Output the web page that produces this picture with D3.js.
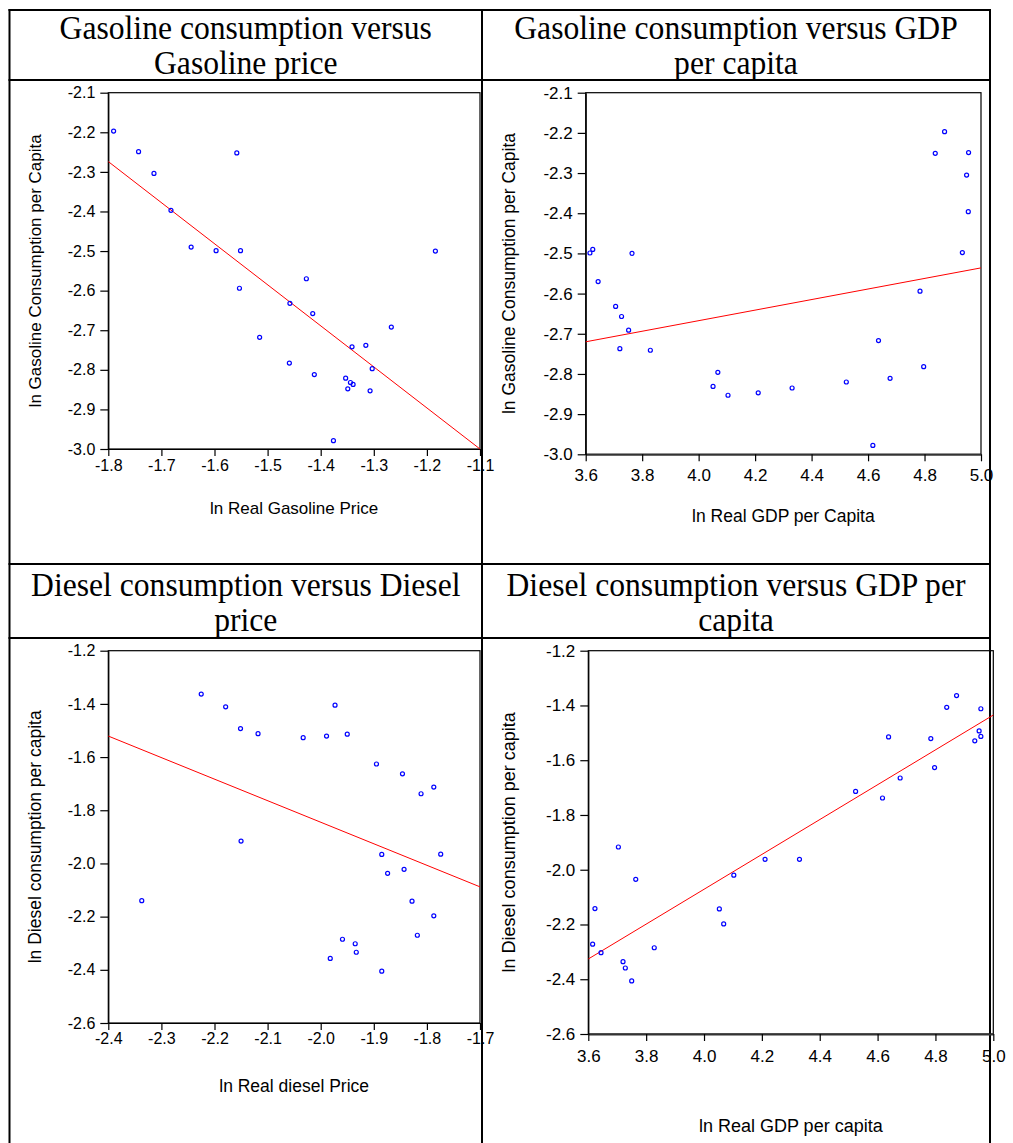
<!DOCTYPE html>
<html>
<head>
<meta charset="utf-8">
<script src="https://cdn.jsdelivr.net/npm/d3@7"></script>
<style>
  body { margin: 0; background: #fff; }
  text { fill: #000; }
</style>
</head>
<body>
<div id="chart"></div>
<script>
// Titles (two lines per cell)
const titles = [
    ["Gasoline consumption versus", "Gasoline price"],
    ["Gasoline consumption versus GDP", "per capita"],
    ["Diesel consumption versus Diesel", "price"],
    ["Diesel consumption versus GDP per", "capita"]
];

const xLabels = ["ln Real Gasoline Price", "ln Real GDP per Capita", "ln Real diesel Price", "ln Real GDP per capita"];
const yLabels = ["ln Gasoline Consumption per Capita", "ln Gasoline Consumption per Capita",
    "ln Diesel consumption per capita", "ln Diesel consumption per capita"];

// Panel 1: gasoline consumption vs gasoline price
const gasPrice = [-1.790, -1.743, -1.714, -1.682, -1.644, -1.597, -1.551, -1.558, -1.184,
    -1.553, -1.427, -1.458, -1.415, -1.267, -1.515, -1.341, -1.315, -1.459, -1.303,
    -1.412, -1.353, -1.344, -1.339, -1.349, -1.307, -1.376];
const gasConsA = [-2.197, -2.249, -2.304, -2.397, -2.490, -2.499, -2.499, -2.252, -2.500,
    -2.594, -2.570, -2.632, -2.658, -2.692, -2.718, -2.742, -2.738, -2.783, -2.797,
    -2.812, -2.821, -2.832, -2.837, -2.848, -2.853, -2.979];
const fitA_x = [-1.8, -1.1];
const fitA_y = [-2.274, -3.0];

// Panel 2: gasoline consumption vs GDP per capita
const gdpB = [3.615, 3.625, 3.764, 4.838, 4.871, 4.956, 4.949, 4.955, 4.934,
    3.644, 3.706, 3.727, 3.752, 3.721, 3.829, 4.068, 4.051, 4.104, 4.211,
    4.331, 4.523, 4.617, 4.637, 4.678, 4.784, 4.797];
const gasConsB = [-2.499, -2.490, -2.500, -2.251, -2.197, -2.249, -2.305, -2.396, -2.498,
    -2.570, -2.632, -2.657, -2.691, -2.737, -2.741, -2.796, -2.831, -2.853, -2.847,
    -2.835, -2.820, -2.978, -2.717, -2.811, -2.594, -2.782];
const fitB_x = [3.6, 5.0];
const fitB_y = [-2.720, -2.536];

// Panel 3: diesel consumption vs diesel price
const dieselPrice = [-2.225, -2.179, -2.151, -2.118, -2.033, -1.989, -1.973, -1.950, -1.895,
    -1.846, -1.811, -1.787, -2.150, -1.885, -1.774, -1.843, -1.874, -2.337, -1.828,
    -1.787, -1.818, -1.959, -1.935, -1.933, -1.982, -1.885];
const dieselConsC = [-1.363, -1.411, -1.493, -1.512, -1.527, -1.521, -1.405, -1.514, -1.626,
    -1.663, -1.738, -1.713, -1.916, -1.966, -1.965, -2.022, -2.037, -2.140, -2.142,
    -2.197, -2.270, -2.285, -2.302, -2.334, -2.357, -2.405];
const fitC_x = [-2.4, -1.7];
const fitC_y = [-1.521, -2.088];

// Panel 4: diesel consumption vs GDP per capita
const gdpD = [4.873, 4.839, 4.957, 4.951, 4.957, 4.936, 4.638, 4.784, 4.797,
    4.678, 4.524, 4.617, 3.704, 4.211, 4.330, 4.103, 3.764, 3.623, 4.053,
    4.068, 3.615, 3.828, 3.644, 3.720, 3.728, 3.750];
const dieselConsD = [-1.364, -1.407, -1.412, -1.493, -1.513, -1.529, -1.515, -1.521, -1.627,
    -1.665, -1.714, -1.738, -1.917, -1.962, -1.962, -2.020, -2.035, -2.142, -2.143,
    -2.198, -2.272, -2.285, -2.303, -2.336, -2.359, -2.406];
const fitD_x = [3.6, 5.0];
const fitD_y = [-2.326, -1.435];

// Tick values
const xTicksA = [-1.8, -1.7, -1.6, -1.5, -1.4, -1.3, -1.2, -1.1];
const yTicksA = [-2.1, -2.2, -2.3, -2.4, -2.5, -2.6, -2.7, -2.8, -2.9, -3.0];
const xTicksGdp = [3.6, 3.8, 4.0, 4.2, 4.4, 4.6, 4.8, 5.0];
const xTicksC = [-2.4, -2.3, -2.2, -2.1, -2.0, -1.9, -1.8, -1.7];
const yTicksC = [-1.2, -1.4, -1.6, -1.8, -2.0, -2.2, -2.4, -2.6];

const W = 1013, H = 1143;
const svg = d3.select("#chart").append("svg")
    .attr("width", W).attr("height", H)
    .style("background", "#fff");

const sans = "'Liberation Sans', Arial, sans-serif";

// Table grid
const tbl = { left: 9.5, mid: 482, right: 990, top: 10, row1: 80, row2: 564, row3: 638 };
const grid = svg.append("g").attr("stroke", "#000").attr("stroke-width", 2);
[tbl.left, tbl.mid, tbl.right].forEach(x =>
    grid.append("line").attr("x1", x).attr("x2", x).attr("y1", tbl.top - 1).attr("y2", H));
[tbl.top, tbl.row1, tbl.row2, tbl.row3].forEach(y =>
    grid.append("line").attr("x1", tbl.left - 1).attr("x2", tbl.right + 1).attr("y1", y).attr("y2", y));

// Titles (slightly condensed serif)
const titlePos = [
    { cx: (tbl.left + tbl.mid) / 2, y: 39 },
    { cx: (tbl.mid + tbl.right) / 2, y: 39 },
    { cx: (tbl.left + tbl.mid) / 2, y: 596 },
    { cx: (tbl.mid + tbl.right) / 2, y: 596 }
];
titles.forEach((lines, i) => {
    const t = svg.append("text")
        .attr("transform", `translate(${titlePos[i].cx},${titlePos[i].y}) scale(0.93,1)`)
        .attr("text-anchor", "middle")
        .style("font-family", "'Liberation Serif', 'Times New Roman', serif")
        .style("font-size", "34px");
    lines.forEach((s, j) => t.append("tspan")
        .attr("x", 0).attr("y", j * 35).text(s));
});

// Panel geometry
const panels = [
    { xs: gasPrice, ys: gasConsA, fx: fitA_x, fy: fitA_y, xd: [-1.8, -1.1], yd: [-3.0, -2.1],
      xr: [108.3, 480], yr: [449, 92.7], xt: xTicksA, yt: yTicksA, fs: 16, pad: 3.5, ypad: 5,
      xl: 508, yl: 35, lfs: 17 },
    { xs: gdpB, ys: gasConsB, fx: fitB_x, fy: fitB_y, xd: [3.6, 5.0], yd: [-3.0, -2.1],
      xr: [585.7, 981], yr: [454.3, 92.7], xt: xTicksGdp, yt: yTicksA, fs: 17, pad: 8, ypad: 5,
      xl: 516, yl: 509, lfs: 17.5 },
    { xs: dieselPrice, ys: dieselConsC, fx: fitC_x, fy: fitC_y, xd: [-2.4, -1.7], yd: [-2.6, -1.2],
      xr: [108.3, 480], yr: [1023, 650.7], xt: xTicksC, yt: yTicksC, fs: 16, pad: 2.5, ypad: 5,
      xl: 1086, yl: 35, lfs: 17.5 },
    { xs: gdpD, ys: dieselConsD, fx: fitD_x, fy: fitD_y, xd: [3.6, 5.0], yd: [-2.6, -1.2],
      xr: [588.3, 993.3], yr: [1034, 650.7], xt: xTicksGdp, yt: yTicksC, fs: 17, pad: 9, ypad: 5,
      xl: 1126, yl: 509, lfs: 18 }
];

const fmt = d => d.toFixed(1);

panels.forEach((p, i) => {
    const x = d3.scaleLinear().domain(p.xd).range(p.xr);
    const y = d3.scaleLinear().domain(p.yd).range(p.yr);
    const g = svg.append("g");

    // frame (top and right)
    g.append("rect")
        .attr("x", p.xr[0]).attr("y", p.yr[1])
        .attr("width", p.xr[1] - p.xr[0]).attr("height", p.yr[0] - p.yr[1])
        .attr("fill", "none").attr("stroke", "#000").attr("stroke-width", 1.2);

    const xAxis = g.append("g")
        .attr("transform", `translate(0,${p.yr[0]})`)
        .call(d3.axisBottom(x).tickValues(p.xt).tickFormat(fmt).tickSize(7).tickSizeOuter(0).tickPadding(p.pad));
    const yAxis = g.append("g")
        .attr("transform", `translate(${p.xr[0]},0)`)
        .call(d3.axisLeft(y).tickValues(p.yt).tickFormat(fmt).tickSize(8).tickSizeOuter(0).tickPadding(p.ypad));
    [xAxis, yAxis].forEach(a => {
        a.selectAll("text")
            .style("font-family", sans)
            .style("font-size", p.fs + "px");
        a.selectAll("line, path").attr("stroke", "#000").attr("stroke-width", 1.2);
    });
    if (i % 2 === 1) {
        xAxis.select(".domain").attr("stroke", "#333").attr("stroke-width", 2);
    }

    // regression line
    const fit = p.fx.map((v, k) => [v, p.fy[k]]);
    g.append("path")
        .datum(fit)
        .attr("fill", "none")
        .attr("stroke", "#ff0000")
        .attr("stroke-width", 1)
        .attr("d", d3.line().x(d => x(d[0])).y(d => y(d[1])));

    // points
    g.selectAll("circle")
        .data(p.xs.map((v, k) => [v, p.ys[k]]))
        .join("circle")
        .attr("cx", d => x(d[0]))
        .attr("cy", d => y(d[1]))
        .attr("r", 2)
        .attr("fill", "none")
        .attr("stroke", "#0000ff")
        .attr("stroke-width", 1.2);

    // axis titles
    g.append("text")
        .attr("x", (p.xr[0] + p.xr[1]) / 2).attr("y", p.xl)
        .attr("text-anchor", "middle").attr("dominant-baseline", "central")
        .style("font-family", sans)
        .style("font-size", p.lfs + "px")
        .text(xLabels[i]);
    g.append("text")
        .attr("transform", `translate(${p.yl},${(p.yr[0] + p.yr[1]) / 2}) rotate(-90)`)
        .attr("text-anchor", "middle").attr("dominant-baseline", "central")
        .style("font-family", sans)
        .style("font-size", p.lfs + "px")
        .text(yLabels[i]);
});
</script>
</body>
</html>
